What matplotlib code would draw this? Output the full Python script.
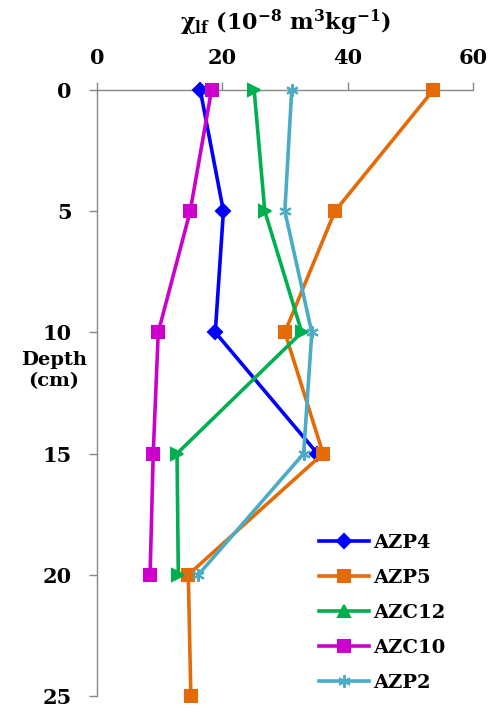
import matplotlib
matplotlib.use("Agg")
import matplotlib.pyplot as plt
from matplotlib.lines import Line2D

depth = [0, 5, 10, 15, 20, 25]
azp4 = [16.5, 20.2, 18.9, 35.2]
azp5 = [53.7, 38.0, 30.0, 36.1, 14.6, 15.0]
azc12 = [25.1, 26.8, 32.7, 12.8, 13.0]
azc10 = [18.3, 14.9, 9.8, 9.0, 8.5]
azp2 = [31.1, 30.0, 34.3, 33.0, 16.2]

series = [
    ("AZP4", azp4, "#0000FF", "D", "D"),
    ("AZP5", azp5, "#E36C09", "s", "s"),
    ("AZC12", azc12, "#00B050", ">", "^"),
    ("AZC10", azc10, "#CC00CC", "s", "s"),
    ("AZP2", azp2, "#4BACC6", (6, 2, 0), (6, 2, 0)),
]

xticks = [0, 20, 40, 60]
yticks = [0, 5, 10, 15, 20, 25]

plt.rcParams['font.family'] = ['DejaVu Serif']
plt.rcParams['mathtext.fontset'] = 'dejavuserif'

fig = plt.figure(figsize=(4.89, 7.08), dpi=100)
ax = fig.add_axes([0.198, 0.017, 0.769, 0.856])

handles = []
for name, vals, col, mk, lmk in series:
    ms = 9 if mk != "D" else 7
    ax.plot(vals, depth[:len(vals)], color=col, lw=2.6, marker=mk, ms=ms,
            mec=col, mew=1.5, clip_on=False, zorder=3)
    handles.append(Line2D([], [], color=col, lw=2.6, marker=lmk, ms=ms, mec=col, mew=1.5))

ax.set_xlim(0, 60)
ax.set_ylim(25, 0)
ax.set_xticks(xticks)
ax.set_yticks(yticks)
ax.xaxis.tick_top()
for s in ['right', 'bottom']:
    ax.spines[s].set_visible(False)
for s in ['top', 'left']:
    ax.spines[s].set_color('#888888')
    ax.spines[s].set_linewidth(1.0)
ax.tick_params(axis='both', color='#888888', length=6, width=1.0,
               labelsize=15)
ax.tick_params(axis='x', pad=10)
ax.tick_params(axis='y', pad=12)
for lab in ax.get_xticklabels() + ax.get_yticklabels():
    lab.set_fontweight('bold')

fig.text(0.583, 0.968,
         r"$\mathbf{\chi}_{\mathbf{lf}}$ (10$^{\mathbf{-8}}$ m$^{\mathbf{3}}$kg$^{\mathbf{-1}}$)",
         ha='center', va='center', fontsize=16, fontweight='bold')
fig.text(0.110, 0.477, "Depth\n(cm)", ha='center', va='center', fontsize=14,
         fontweight='bold', linespacing=1.25)

leg = ax.legend(handles, [s[0] for s in series], loc='lower left',
                bbox_to_anchor=(0.554, -0.016), frameon=False, handlelength=2.6,
                handletextpad=0.2, labelspacing=0.88, borderpad=0.2,
                prop={'weight': 'bold', 'size': 14})

fig.savefig("out.png", dpi=100)
